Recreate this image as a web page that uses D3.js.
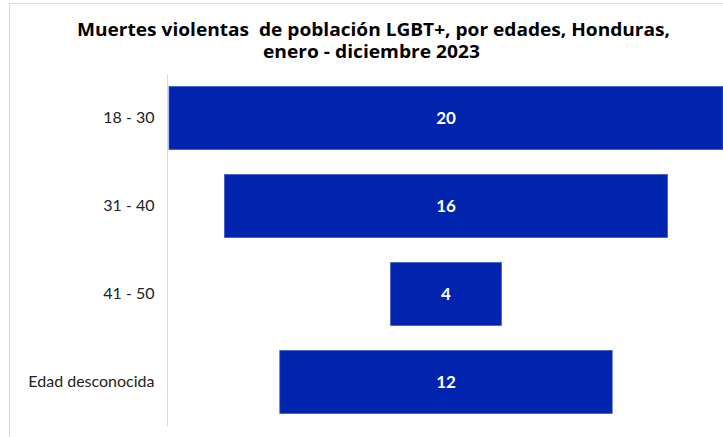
<!DOCTYPE html>
<html><head><meta charset="utf-8">
<script src="https://cdn.jsdelivr.net/npm/d3@7"></script>
<style>html,body{margin:0;padding:0;background:#fff;overflow:hidden}</style>
</head><body>
<svg id="c" width="723" height="437"></svg>
<script>
const categories = ["18 - 30", "31 - 40", "41 - 50", "Edad desconocida"];
const values = [20, 16, 4, 12];
const titleLines = ["Muertes violentas  de población LGBT+, por edades, Honduras,", "enero - diciembre 2023"];

const svg = d3.select("#c");
const W = 723, H = 437;
svg.append("rect").attr("x",9.5).attr("y",3.5).attr("width",W+10).attr("height",H+10)
  .attr("fill","#fff").attr("stroke","#d9d9d9").attr("stroke-width",1);

const axisX = 167.5, cx = 446;
const x = d3.scaleLinear().domain([0, 20]).range([0, 554]);
const y = d3.scaleBand().domain(categories).range([74, 426]).paddingInner(0.284).paddingOuter(0.142);

// title
const t = svg.append("text").attr("text-anchor","middle").style("white-space","pre")
  .attr("font-family","'Open Sans', sans-serif").attr("font-weight","bold").attr("font-size",18).attr("fill","#000");
t.append("tspan").attr("x",373.5).attr("y",36).text(titleLines[0]).attr("textLength",593).attr("lengthAdjust","spacingAndGlyphs");
t.append("tspan").attr("x",371.5).attr("y",58).text(titleLines[1]).attr("textLength",217).attr("lengthAdjust","spacingAndGlyphs");

// axis line
svg.append("line").attr("x1",axisX).attr("x2",axisX).attr("y1",74).attr("y2",426)
  .attr("stroke","#d9d9d9").attr("stroke-width",1);

// bars
svg.selectAll("rect.bar").data(values).join("rect").attr("class","bar")
  .attr("x",(d)=>cx - x(d)/2).attr("width",d=>x(d))
  .attr("y",(d,i)=>y(categories[i])).attr("height",y.bandwidth())
  .attr("fill","#0024ae").attr("stroke","#3f5cc6").attr("stroke-width",0.8);

// values
svg.selectAll("text.val").data(values).join("text").attr("class","val")
  .attr("x",cx).attr("y",(d,i)=>y(categories[i])+y.bandwidth()/2)
  .attr("dy","0.36em").attr("text-anchor","middle")
  .attr("font-family","Lato, sans-serif").attr("font-weight","bold").attr("font-size",17)
  .attr("fill","#fff").text(d=>d);

// category labels
const yAxis = d3.axisLeft(y).tickSize(0).tickPadding(13);
const g = svg.append("g").attr("transform",`translate(${axisX},0)`).call(yAxis);
g.select(".domain").remove();
g.selectAll("text").attr("font-family","Lato, sans-serif").attr("font-size",16).attr("fill","#222");
</script>
</body></html>
